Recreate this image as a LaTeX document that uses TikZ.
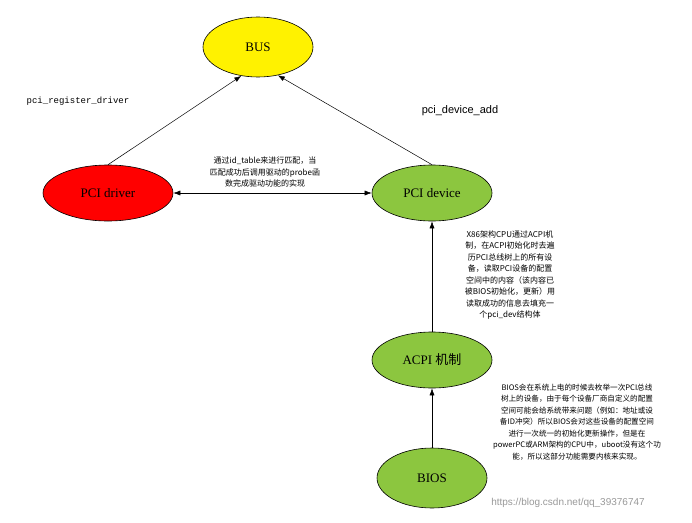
\documentclass[tikz,border=0pt]{standalone}
\usepackage{fontspec}
\setmainfont{Liberation Serif}
\newfontfamily\cjk{Noto Sans CJK SC}
\newfontfamily\sans{Liberation Sans}
\newfontfamily\mono{Liberation Mono}
\usetikzlibrary{shapes.geometric,arrows.meta}
\definecolor{grn}{HTML}{8CC63F}
\begin{document}
\begin{tikzpicture}[x=1pt,y=-1pt,
  ell/.style={ellipse,draw=black,line width=0.6pt,minimum width=#1,minimum height=56,font=\fontsize{13}{15}\selectfont\rmfamily},
  arr/.style={-{Latex[length=7pt,width=5pt]},line width=0.5pt},
  note/.style={align=center,font=\fontsize{8}{11.5}\selectfont\cjk}]
\useasboundingbox (0,0) rectangle (692,522);
\fill[white] (0,0) rectangle (692,522);
\node[ell=110,fill=yellow,minimum height=60] (bus) at (258,47) {BUS};
\node[ell=130,fill=red] (drv) at (108,193) {PCI driver};
\node[ell=120,fill=grn] (dev) at (432,193) {PCI device};
\node[ell=120,fill=grn] (acpi) at (432,360) {ACPI {\cjk 机制}};
\node[ell=110,fill=grn,minimum height=60] (bios) at (432,478) {BIOS};
\draw[arr] (drv.north) -- (bus.240);
\draw[arr] (dev.north) -- (bus.305);
\draw[{Latex[length=7pt,width=5pt]}-{Latex[length=7pt,width=5pt]},line width=0.5pt] (drv.east) -- (dev.west);
\draw[arr] (acpi.north) -- (dev.south);
\draw[arr] (bios.north) -- (acpi.south);
\node[font=\fontsize{9}{11}\selectfont\mono] (l1) at (78,101) {pci\_register\_driver};
\node[font=\fontsize{11}{13}\selectfont\sans] (l2) at (460,111) {pci\_device\_add};
\node[note] (t1) at (265,172) {通过id\_table来进行匹配，当\\匹配成功后调用驱动的probe函\\数完成驱动功能的实现};
\node[note] (t2) at (510,275) {X86架构CPU通过ACPI机\\制，在ACPI初始化时去遍\\历PCI总线树上的所有设\\备，读取PCI设备的配置\\空间中的内容（该内容已\\被BIOS初始化，更新）用\\读取成功的信息去填充一\\个pci\_dev结构体};
\node[note,font=\fontsize{7.6}{11.5}\selectfont\cjk] (t3) at (577,422) {BIOS会在系统上电的时候去枚举一次PCI总线\\树上的设备，由于每个设备厂商自定义的配置\\空间可能会给系统带来问题（例如：地址或设\\备ID冲突）所以BIOS会对这些设备的配置空间\\进行一次统一的初始化更新操作，但是在\\powerPC或ARM架构的CPU中，uboot没有这个功\\能，所以这部分功能需要内核来实现。};
\node[font=\fontsize{10}{12}\selectfont\sans,text=black!40] (wm) at (568,503) {https://blog.csdn.net/qq\_39376747};
\end{tikzpicture}
\end{document}
